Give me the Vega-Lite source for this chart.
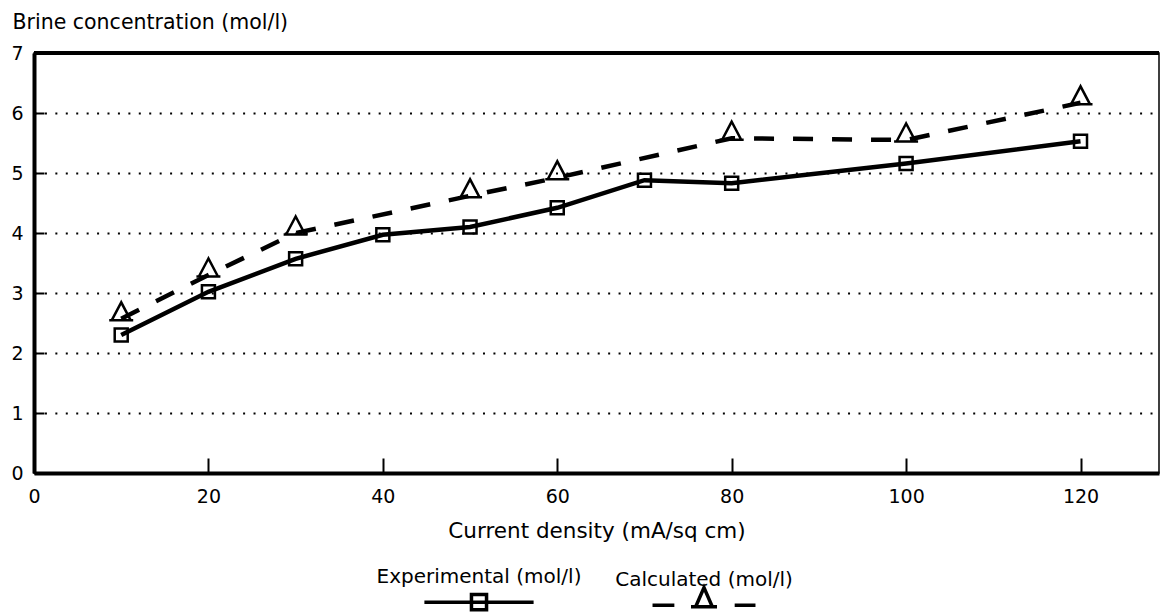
{
  "$schema": "https://vega.github.io/schema/vega-lite/v6.json",
  "width": 1125,
  "height": 420,
  "autosize": {"type": "none"},
  "padding": {"left": 34, "top": 53, "right": 2, "bottom": 140},
  "background": "white",
  "config": {
    "font": "DejaVu Sans",
    "view": {"stroke": "black", "strokeWidth": 1.5},
    "style": {"guide-label": {"lineHeight": 50}},
    "axis": {
      "domainColor": "black",
      "tickColor": "black",
      "labelColor": "black",
      "titleColor": "black",
      "labelFont": "DejaVu Sans",
      "titleFont": "DejaVu Sans",
      "labelFlush": false,
      "labelOverlap": false
    }
  },
  "data": {
    "values": [
      {"density": 10, "conc": 2.3, "series": "Experimental (mol/l)"},
      {"density": 20, "conc": 3.02, "series": "Experimental (mol/l)"},
      {"density": 30, "conc": 3.57, "series": "Experimental (mol/l)"},
      {"density": 40, "conc": 3.97, "series": "Experimental (mol/l)"},
      {"density": 50, "conc": 4.1, "series": "Experimental (mol/l)"},
      {"density": 60, "conc": 4.42, "series": "Experimental (mol/l)"},
      {"density": 70, "conc": 4.88, "series": "Experimental (mol/l)"},
      {"density": 80, "conc": 4.83, "series": "Experimental (mol/l)"},
      {"density": 100, "conc": 5.16, "series": "Experimental (mol/l)"},
      {"density": 120, "conc": 5.53, "series": "Experimental (mol/l)"},
      {"density": 10, "conc": 2.57, "series": "Calculated (mol/l)"},
      {"density": 20, "conc": 3.3, "series": "Calculated (mol/l)"},
      {"density": 30, "conc": 4.0, "series": "Calculated (mol/l)"},
      {"density": 50, "conc": 4.62, "series": "Calculated (mol/l)"},
      {"density": 60, "conc": 4.92, "series": "Calculated (mol/l)"},
      {"density": 80, "conc": 5.58, "series": "Calculated (mol/l)"},
      {"density": 100, "conc": 5.55, "series": "Calculated (mol/l)"},
      {"density": 120, "conc": 6.17, "series": "Calculated (mol/l)"}
    ]
  },
  "layer": [
    {
      "mark": {"type": "rule", "stroke": "black", "strokeWidth": 4},
      "encoding": {
        "y": {"datum": 7, "type": "quantitative"}
      }
    },
    {
      "transform": [{"filter": "datum.series === 'Experimental (mol/l)'"}],
      "mark": {"type": "line", "stroke": "black", "strokeWidth": 4.5},
      "encoding": {
        "x": {
          "field": "density",
          "type": "quantitative",
          "scale": {"domain": [0, 129], "nice": false, "zero": false},
          "axis": {
            "values": [0, 20, 40, 60, 80, 100, 120],
            "tickSize": -15,
            "tickWidth": 2,
            "domainWidth": 4,
            "grid": false,
            "labelFontSize": 19,
            "labelPadding": 29,
            "title": "Current density (mA/sq cm)",
            "titleFontSize": 21.5,
            "titleFontWeight": "normal",
            "titleBaseline": "alphabetic",
            "titleY": 64
          }
        },
        "y": {
          "field": "conc",
          "type": "quantitative",
          "scale": {"domain": [0, 7], "nice": false},
          "axis": {
            "values": [0, 0.5, 1, 1.5, 2, 2.5, 3, 3.5, 4, 4.5, 5, 5.5, 6, 6.5, 7],
            "format": "d",
            "labelExpr": "datum.value % 1 === 0 ? datum.label : ''",
            "tickSize": -10,
            "tickWidth": 2,
            "domainWidth": 4,
            "grid": true,
            "gridColor": "black",
            "gridWidth": 2,
            "gridDash": [2, 8.43],
            "labelFontSize": 19,
            "labelPadding": 21,
            "title": "Brine concentration (mol/l)",
            "titleAngle": 0,
            "titleAlign": "left",
            "titleBaseline": "alphabetic",
            "titleX": -22,
            "titleY": -25,
            "titleFontSize": 20.5,
            "titleFontWeight": "normal",
            "encode": {
              "ticks": {
                "update": {"x2": {"signal": "datum.value % 1 === 0 ? 17 : 10"}}
              },
              "grid": {
                "update": {"strokeOpacity": {"signal": "datum.value % 1 === 0 && datum.value > 0 && datum.value < 7 ? 1 : 0"}}
              }
            }
          }
        }
      }
    },
    {
      "transform": [{"filter": "datum.series === 'Calculated (mol/l)'"}],
      "mark": {"type": "line", "stroke": "black", "strokeWidth": 4.5, "strokeDash": [20, 19]},
      "encoding": {
        "x": {"field": "density", "type": "quantitative"},
        "y": {"field": "conc", "type": "quantitative"}
      }
    },
    {
      "transform": [{"filter": "datum.series === 'Experimental (mol/l)'"}],
      "mark": {"type": "point", "filled": false, "stroke": "black", "strokeWidth": 2.5, "size": 400, "opacity": 1, "shape": "M-0.65,-0.65H0.65V0.65H-0.65Z"},
      "encoding": {
        "x": {"field": "density", "type": "quantitative"},
        "y": {"field": "conc", "type": "quantitative"}
      }
    },
    {
      "transform": [{"filter": "datum.series === 'Calculated (mol/l)'"}],
      "mark": {"type": "point", "filled": false, "stroke": "black", "strokeWidth": 2.5, "size": 400, "opacity": 1, "shape": "M0,-1.65L-0.95,0.15H0.95Z M-1.2,0.15H1.2"},
      "encoding": {
        "x": {"field": "density", "type": "quantitative"},
        "y": {"field": "conc", "type": "quantitative"}
      }
    },
    {
      "mark": {"type": "point", "filled": false, "stroke": "black", "strokeWidth": 3.5, "size": 0, "opacity": 1},
      "encoding": {
        "x": {"field": "density", "type": "quantitative"},
        "y": {"field": "conc", "type": "quantitative"},
        "shape": {
          "field": "series",
          "type": "nominal",
          "scale": {
            "domain": ["Experimental (mol/l)", "Calculated (mol/l)"],
            "range": [
              "M-1.05,0H1.05 M-0.145,-0.15H0.145V0.14H-0.145Z",
              "M-0.99,0H-0.57 M-0.16,0.03L0,-0.34L0.16,0.03Z M-0.25,0.03H0.25 M0.59,0H0.99"
            ]
          },
          "legend": {
            "orient": "none",
            "legendX": 391,
            "legendY": 495,
            "direction": "horizontal",
            "title": null,
            "padding": 0,
            "symbolSize": 10816,
            "symbolStrokeWidth": 3.5,
            "symbolStrokeColor": "black",
            "symbolFillColor": "transparent",
            "labelFont": "DejaVu Sans",
            "labelFontSize": 20,
            "labelColor": "black",
            "labelLimit": 400,
            "labelAlign": "center",
            "labelBaseline": "line-bottom",
            "labelOffset": -54,
            "columnPadding": 33
          }
        }
      }
    }
  ]
}
